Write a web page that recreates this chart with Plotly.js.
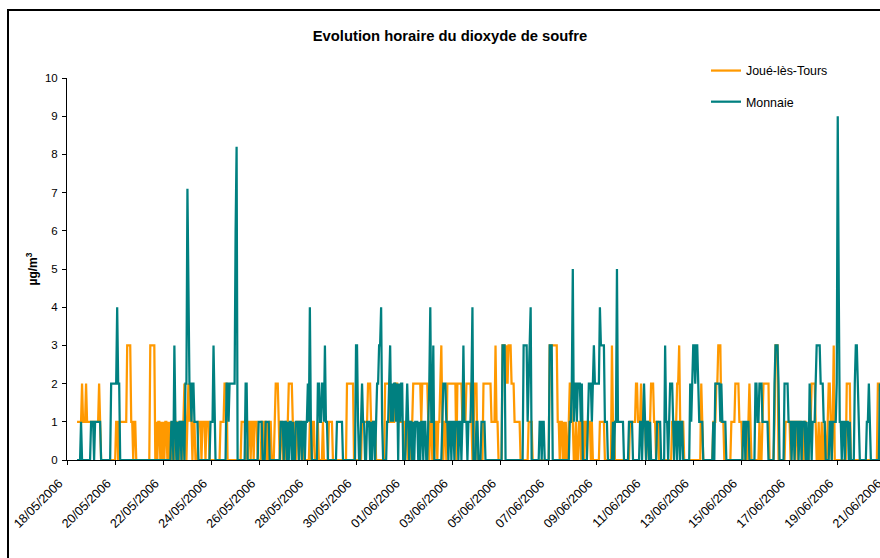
<!DOCTYPE html>
<html>
<head>
<meta charset="utf-8">
<script src="https://cdn.plot.ly/plotly-3.0.1.min.js"></script>
<style>
html, body { margin: 0; padding: 0; overflow: hidden; background: #fff; width: 880px; height: 558px; }
#chart { position: absolute; left: 0; top: 0; width: 940px; height: 558px; }
#frame { position: absolute; left: 7px; top: 9px; width: 1000px; height: 700px; border-left: 2px solid #000; border-top: 2px solid #000; pointer-events: none; }
</style>
</head>
<body>
<div id="chart"></div>
<div id="frame"></div>
<script>
// Hourly values, one character per hour (00h..23h), one string per day from 18/05/2006.
// '-' = no measurement.
const startDay = '2006-05-18';
const seriesNames = ['Joué-lès-Tours', 'Monnaie'];

const joueDays = [
  "----------11111211121111", // 18/05
  "111111112100000000000000", // 19/05
  "011011111111333311011000", // 20/05
  "000000000003333301011010", // 21/05
  "101101010010110101101210", // 22/05
  "121210110001110111011100", // 23/05
  "000000000111122200000000", // 24/05
  "000000111100011011011100", // 25/05
  "001101101011000122210110", // 26/05
  "101112222101011011010000", // 27/05
  "001001100010000100000111", // 28/05
  "100000000000000222222200", // 29/05
  "000000111111222111110000", // 30/05
  "000002222211111222111111", // 31/05
  "101101101222222221222222", // 01/06
  "101101011011231011022222", // 02/06
  "222202222211112222210022", // 03/06
  "200000022222222111131100", // 04/06
  "003332323332221111110000", // 05/06
  "000011110000000000000000", // 06/06
  "033333333110110101001221", // 07/06
  "100100110110110111010000", // 08/06
  "000111110000000311000000", // 09/06
  "000000000111111221112111", // 10/06
  "101101222110110000000000", // 11/06
  "000111112231111000000000", // 12/06
  "000000002100000000001112", // 13/06
  "233311100000001111222211", // 14/06
  "100001012100000000100122", // 15/06
  "222200000133300000001111", // 16/06
  "101110110111010110001122", // 17/06
  "221001001001001221013000", // 18/06
  "000000000222200000000000", // 19/06
  "000000000000000022210100"  // 20/06
];

const monnaieDays = [
  "----------00001000000000", // 18/05
  "111011111100000000002222", // 19/05
  "224220000000000000000000", // 20/05
  "000000000000000000000000", // 21/05
  "000000001103101011011022", // 22/05
  "742212211110000000000001", // 23/05
  "113100000000000221222222", // 24/05
  "680000000022000000000001", // 25/05
  "111000111100000000000111", // 26/05
  "011010110100111011011011", // 27/05
  "214100000022112213110000", // 28/05
  "000001111110000000000000", // 29/05
  "331001211001110101101223", // 30/05
  "341000011231212212021220", // 31/05
  "001210110101110101101100", // 01/06
  "124113000000001222110110", // 02/06
  "110111011013111011124000", // 03/06
  "110001111000000000000000", // 04/06
  "003330000000000000000003", // 05/06
  "333123400000000110110000", // 06/06
  "033300000000000000000112", // 07/06
  "512212221200000122212322", // 08/06
  "222433331110000010115111", // 09/06
  "111000001111000000011012", // 10/06
  "101101000000111100003110", // 11/06
  "122210110110110000000212", // 12/06
  "332332111100000000001022", // 13/06
  "222121111000000000000000", // 14/06
  "001101110000002211222111", // 15/06
  "111000000233320000022221", // 16/06
  "110110111011011101002101", // 17/06
  "112333322211000011011112", // 18/06
  "941101101110100002332100", // 19/06
  "000001121000000000210000"  // 20/06
];

// Non-integer hourly peaks of Monnaie: [hour index from 18/05 00h, value]
const monnaiePeaks = [[120, 7.1], [169, 8.2], [769, 4.5]];

const lineColors = ['#FF9900', '#008080'];

function hourLabel(h) {
  const t = Date.UTC(2006, 4, 18) + h * 3600000;
  return new Date(t).toISOString().slice(0, 19).replace('T', ' ');
}
function decode(days) {
  const ys = [];
  days.forEach(function (s) {
    for (const c of s) ys.push(c === '-' ? null : Number(c));
  });
  return ys;
}
const joueY = decode(joueDays);
const monnaieY = decode(monnaieDays);
monnaiePeaks.forEach(function (p) { monnaieY[p[0]] = p[1]; });
const xs = joueY.map(function (_, i) { return hourLabel(i); });

const traces = [
  { x: xs, y: joueY, name: seriesNames[0], type: 'scatter', mode: 'lines',
    line: { color: lineColors[0], width: 2.25 }, legendgroup: 'a', connectgaps: false },
  { x: xs, y: monnaieY, name: seriesNames[1], type: 'scatter', mode: 'lines',
    line: { color: lineColors[1], width: 2.25 }, legendgroup: 'b', connectgaps: false }
];

const font = 'Arial, "Liberation Sans", sans-serif';
const layout = {
  width: 940, height: 558,
  margin: { l: 67, r: 30, t: 78, b: 98 },
  paper_bgcolor: '#ffffff', plot_bgcolor: '#ffffff',
  font: { family: font, size: 11, color: '#000' },
  title: { text: '<b>Evolution horaire du dioxyde de soufre</b>', font: { family: font, size: 14.8, color: '#000' },
           x: 450 / 940, xanchor: 'center', xref: 'container', y: 1 - 36 / 558, yanchor: 'middle', yref: 'container' },
  showlegend: true,
  legend: { x: (706 - 67) / 843, xanchor: 'left', y: 1 + 22 / 382, yanchor: 'top',
            traceorder: 'grouped', tracegroupgap: 12, font: { family: font, size: 12.4, color: '#000' },
            bgcolor: 'rgba(0,0,0,0)' },
  xaxis: {
    type: 'date', range: ['2006-05-18 00:00:00', '2006-06-22 00:00:00'],
    tick0: startDay, dtick: 172800000, tickformat: '%d/%m/%Y', tickangle: -45,
    ticks: 'outside', ticklen: 4, tickcolor: '#000', showline: true, linecolor: '#000', linewidth: 1,
    showgrid: false, zeroline: false, tickfont: { family: font, size: 12.6, color: '#000' },
    ticklabelstandoff: 6, ticklabelshift: -8
  },
  yaxis: {
    range: [0, 10], dtick: 1, ticks: 'outside', ticklen: 4, tickcolor: '#000',
    showline: true, linecolor: '#000', linewidth: 1, showgrid: false, zeroline: false,
    tickfont: { family: font, size: 11.5, color: '#000' }, ticklabelstandoff: 2,
    title: { text: '<b>µg/m<sup>3</sup></b>', font: { family: font, size: 12, color: '#000' }, standoff: 4 }
  }
};

Plotly.newPlot('chart', traces, layout, { displayModeBar: false, staticPlot: true });
</script>
</body>
</html>
